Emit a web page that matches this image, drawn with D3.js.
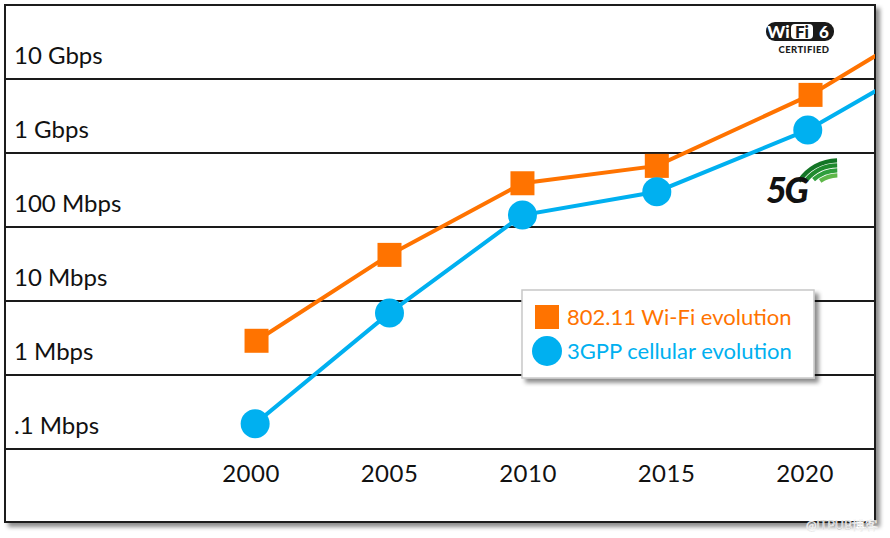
<!DOCTYPE html>
<html><head><meta charset="utf-8">
<script src="https://cdn.jsdelivr.net/npm/d3@7/dist/d3.min.js"></script>
<style>
html,body{margin:0;padding:0;background:#fff;}
svg{display:block;}
text{font-family:Lato,"Open Sans",sans-serif;}
</style></head>
<body>
<svg id="chart" width="890" height="538"></svg>
<script>
// ---- data ----
const years = [2000, 2005, 2010, 2015, 2020];
// marker positions (in year units)
const wifiX = [2000.2, 2005.0, 2009.8, 2014.65, 2020.2];
const cellX = [2000.15, 2005.0, 2009.8, 2014.65, 2020.1];
const wifiMbps = [2.9, 42, 390, 670, 6100];
const cellMbps = [0.22, 6.9, 145, 300, 2050];
// continuation of the trend lines past the right edge (no marker)
const wifiTailYear = 2023, wifiTailMbps = 26000;
const cellTailYear = 2023, cellTailMbps = 8600;
const gridValues = [0.1, 1, 10, 100, 1000, 10000];
const gridLabels = [".1 Mbps", "1 Mbps", "10 Mbps", "100 Mbps", "1 Gbps", "10 Gbps"];
const tickYears = [2000, 2005, 2010, 2015, 2020];
const seriesNames = ["802.11 Wi-Fi evolution", "3GPP cellular evolution"];

const ORANGE = "#FF7300", BLUE = "#00B0F0";
const svg = d3.select("#chart");
const L = 5, R = 875, T = 5, B = 522;

const x = d3.scaleLinear().domain([2000, 2020]).range([251, 805]);
const y = d3.scaleLog().domain([0.1, 100000]).range([449, 5]);

const defs = svg.append("defs");
const f = defs.append("filter").attr("id","shadow").attr("x","-5%").attr("y","-5%").attr("width","115%").attr("height","115%");
f.append("feGaussianBlur").attr("in","SourceAlpha").attr("stdDeviation",2);
f.append("feOffset").attr("dx",4).attr("dy",4).attr("result","ob");
f.append("feFlood").attr("flood-color","#000").attr("flood-opacity",0.45);
f.append("feComposite").attr("in2","ob").attr("operator","in");
const m = f.append("feMerge"); m.append("feMergeNode"); m.append("feMergeNode").attr("in","SourceGraphic");
defs.append("clipPath").attr("id","clip").append("rect").attr("x",L).attr("y",T).attr("width",R-L).attr("height",B-T);

// frame with shadow
svg.append("rect").attr("x",L).attr("y",T).attr("width",R-L).attr("height",B-T)
  .attr("fill","#fff").attr("stroke","#1a1a1a").attr("stroke-width",2).attr("filter","url(#shadow)");

// grid lines
svg.append("g").selectAll("line").data(gridValues).join("line")
  .attr("x1",L).attr("x2",R).attr("y1",d=>y(d)).attr("y2",d=>y(d))
  .attr("stroke","#1a1a1a").attr("stroke-width",2);

// grid labels
svg.append("g").selectAll("text").data(gridValues).join("text")
  .attr("x",14).attr("y",d=>y(d)-15).attr("font-size",24).attr("fill","#111")
  .text((d,i)=>gridLabels[i]);

// x tick labels
svg.append("g").selectAll("text").data(tickYears).join("text")
  .attr("x",d=>x(d)).attr("y",482).attr("text-anchor","middle").attr("font-size",24)
  .attr("letter-spacing",0.5).attr("fill","#111")
  .text(d=>d);

// lines
const line = d3.line().x(d=>x(d[0])).y(d=>y(d[1]));
const g = svg.append("g").attr("clip-path","url(#clip)");
const wifiPts = years.map((yr,i)=>[wifiX[i],wifiMbps[i]]);
const cellPts = years.map((yr,i)=>[cellX[i],cellMbps[i]]);
g.append("path").datum(wifiPts.concat([[wifiTailYear,wifiTailMbps]])).attr("d",line)
  .attr("fill","none").attr("stroke",ORANGE).attr("stroke-width",4);
g.append("path").datum(cellPts.concat([[cellTailYear,cellTailMbps]])).attr("d",line)
  .attr("fill","none").attr("stroke",BLUE).attr("stroke-width",4);

// markers
g.selectAll("rect.w").data(wifiPts).join("rect").attr("class","w")
  .attr("x",d=>x(d[0])-12).attr("y",d=>y(d[1])-12).attr("width",24).attr("height",24).attr("fill",ORANGE);
g.selectAll("circle.c").data(cellPts).join("circle").attr("class","c")
  .attr("cx",d=>x(d[0])).attr("cy",d=>y(d[1])).attr("r",14.5).attr("fill",BLUE);

// legend
const lg = svg.append("g");
lg.append("rect").attr("x",522).attr("y",290).attr("width",292).attr("height",88)
  .attr("fill","#fff").attr("stroke","#c8c8c8").attr("stroke-width",1.5).attr("filter","url(#shadow)");
lg.append("rect").attr("x",535).attr("y",305).attr("width",24).attr("height",24).attr("fill",ORANGE);
lg.append("circle").attr("cx",547).attr("cy",351).attr("r",15).attr("fill",BLUE);
lg.append("text").attr("x",567).attr("y",325).attr("font-size",22).attr("fill",ORANGE).text(seriesNames[0]);
lg.append("text").attr("x",567).attr("y",359).attr("font-size",22).attr("fill",BLUE).text(seriesNames[1]);

// Wi-Fi 6 certified logo
const wl = svg.append("g");
wl.append("rect").attr("x",766).attr("y",22).attr("width",68).attr("height",19).attr("rx",9).attr("fill","#1a1a1a");
wl.append("rect").attr("x",791).attr("y",24).attr("width",22).attr("height",15).attr("rx",4).attr("fill","#fff");
wl.append("text").attr("x",778.5).attr("y",38).attr("text-anchor","middle").attr("font-size",17).attr("font-weight",900)
  .attr("font-family","'DejaVu Sans',sans-serif").attr("fill","#fff").text("Wi");
wl.append("text").attr("x",802).attr("y",38).attr("text-anchor","middle").attr("font-size",17).attr("font-weight",900)
  .attr("font-family","'DejaVu Sans',sans-serif").attr("fill","#1a1a1a").text("Fi");
wl.append("text").attr("x",824).attr("y",38).attr("text-anchor","middle").attr("font-size",17).attr("font-weight",900)
  .attr("font-family","'DejaVu Sans',sans-serif").attr("fill","#fff").text("6");
wl.append("text").attr("x",804).attr("y",53).attr("text-anchor","middle").attr("font-size",9.5).attr("font-weight",900)
  .attr("letter-spacing",0.4)
  .attr("font-family","'DejaVu Sans',sans-serif").attr("fill","#1a1a1a").text("CERTIFIED");

// 5G logo
const fg = svg.append("g").attr("transform","translate(838,207)");
[0,1,2,3].forEach(i=>{
  const r0 = 29.5 + i*5;
  const arc = d3.arc().innerRadius(r0).outerRadius(r0+4.3).startAngle(-0.6 - i*0.13).endAngle(-0.02);
  fg.append("path").attr("d",arc()).attr("fill",["#5fb84a","#2f9e3c","#1f8a2e","#137526"][i]);
});
svg.append("text").attr("x",766).attr("y",203).attr("font-size",36).attr("font-weight",900).attr("font-style","italic")
  .attr("font-family","'DejaVu Sans',sans-serif").attr("letter-spacing",-2.5).attr("fill","#111").text("5G");

// watermark
svg.append("text").attr("x",878).attr("y",530).attr("text-anchor","end").attr("font-size",12.5)
  .attr("fill","#bbb").attr("stroke","#fff").attr("stroke-width",0.5)
  .attr("font-family","'Noto Sans CJK SC',sans-serif").text("@ITPUB博客");
</script>
</body></html>
